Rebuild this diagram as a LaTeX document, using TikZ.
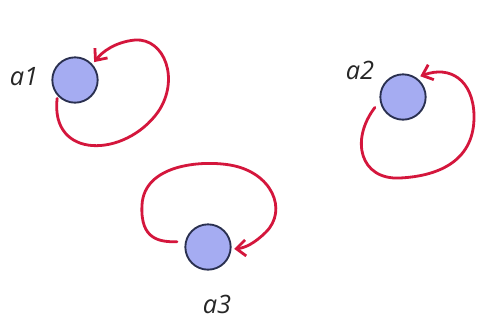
\documentclass[tikz,border=0pt]{standalone}
\usepackage{fontspec}
\setmainfont{Open Sans}
\usetikzlibrary{arrows.meta}
\definecolor{nodefill}{HTML}{A5ACF2}
\definecolor{nodeline}{HTML}{2A3050}
\definecolor{loopred}{HTML}{D4163C}
\tikzset{
  state/.style={circle,draw=nodeline,fill=nodefill,line width=1.4pt,minimum size=34pt,inner sep=0pt},
  lbl/.style={font=\fontsize{19}{22}\selectfont\itshape,text=black!85},
  selfloop/.style={draw=loopred,line width=2.1pt,line cap=round,-{Straight Barb[length=7pt,width=12pt,line width=2.1pt]}}
}
\begin{document}
\begin{tikzpicture}[x=0.75pt,y=-0.75pt]
\useasboundingbox[fill=white] (0,0) rectangle (477,329);
\node[state] (a1) at (75,80) {};
\node[state] (a2) at (403,97) {};
\node[state] (a3) at (208,247) {};
\node[lbl] (l1) at (24,77) {a1};
\node[lbl] (l2) at (360,70) {a2};
\node[lbl] (l3) at (217,304) {a3};
\draw[selfloop,shorten <=2pt,shorten >=2pt] (a1.222) .. controls (50,160) and (125,158) .. (158,112)
  .. controls (180,80) and (165,38) .. (135,40) .. controls (115,42) and (102,52) .. (a1.42);
\draw[selfloop,shorten <=6pt,shorten >=3pt] (a2.190) .. controls (350,140) and (360,180) .. (400,178)
  .. controls (440,176) and (475,160) .. (474,115) .. controls (473,80) and (450,65) .. (a2.55);
\draw[selfloop,shorten <=6pt,shorten >=2pt] (a3.167) .. controls (160,242) and (140,240) .. (142,205)
  .. controls (144,165) and (200,160) .. (230,165) .. controls (272,172) and (288,210) .. (266,232)
  .. controls (255,243) and (245,248) .. (a3.-5);
\end{tikzpicture}
\end{document}
